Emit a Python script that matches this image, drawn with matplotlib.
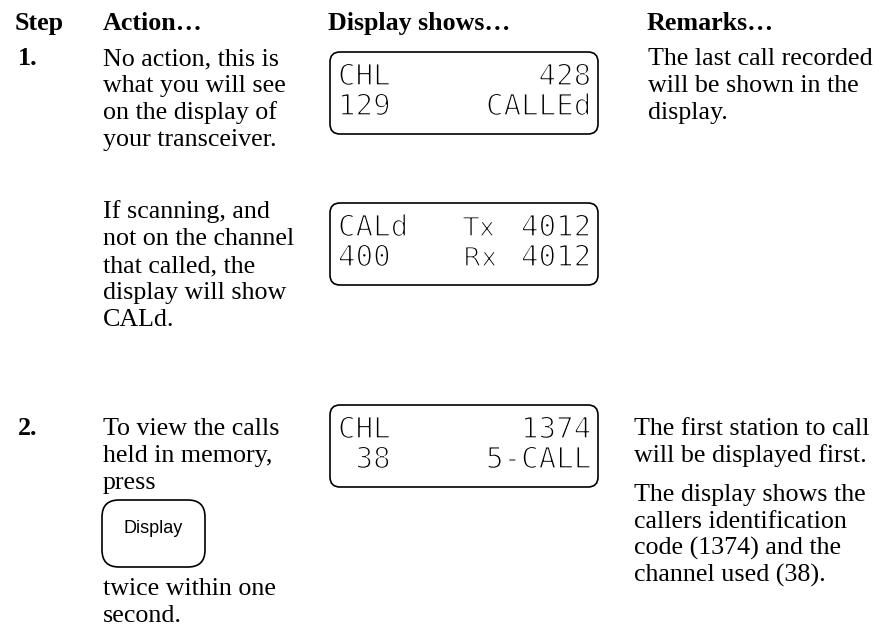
import matplotlib
matplotlib.use("Agg")
import matplotlib.pyplot as plt
from matplotlib.patches import FancyBboxPatch
import matplotlib.patheffects as pe

# ---------------- content ----------------
headers = ["Step", "Action…", "Display shows…", "Remarks…"]
step_labels = ["1.", "2."]

action_1a = ["No action, this is", "what you will see", "on the display of", "your transceiver."]
action_1b = ["If scanning, and", "not on the channel", "that called, the", "display will show", "CALd."]
action_2a = ["To view the calls", "held in memory,", "press"]
button_label = "Display"
action_2b = ["twice within one", "second."]

remarks_1 = ["The last call recorded", "will be shown in the", "display."]
remarks_2a = ["The first station to call", "will be displayed first."]
remarks_2b = ["The display shows the", "callers identification", "code (1374) and the", "channel used (38)."]

# LCD screens: left field, middle field, right field (two rows each)
lcd1_left = ["CHL", "129"]
lcd1_mid = ["", ""]
lcd1_right = ["428", "CALLEd"]
lcd2_left = ["CALd", "400"]
lcd2_mid = ["Tx", "Rx"]
lcd2_right = ["4012", "4012"]
lcd3_left = ["CHL", " 38"]
lcd3_mid = ["", ""]
lcd3_right = ["1374", "5-CALL"]

# ---------------- layout ----------------
W, H = 875, 629
fig = plt.figure(figsize=(W / 100, H / 100), dpi=100)
ax = fig.add_axes([0, 0, 1, 1])
ax.set_xlim(0, W)
ax.set_ylim(H, 0)
ax.axis("off")

SERIF = "Liberation Serif"
SANS = "Liberation Sans"
FS = 18.7
LINE = 27

col_x = [15, 103, 328, 647]
for x, h in zip(col_x, headers):
    ax.text(x, 30, h, fontsize=FS, fontweight="bold", family=SERIF, va="baseline", ha="left")


def para(x, y0, lines, **kw):
    for i, s in enumerate(lines):
        ax.text(x, y0 + i * LINE, s, fontsize=FS, family=SERIF, va="baseline", ha="left", **kw)


# step numbers
ax.text(18, 65, step_labels[0], fontsize=FS, fontweight="bold", family=SERIF, va="baseline")
ax.text(18, 435, step_labels[1], fontsize=FS, fontweight="bold", family=SERIF, va="baseline")

para(col_x[1], 65, action_1a)
para(col_x[1], 218, action_1b)
para(col_x[1], 435, action_2a)
para(col_x[1], 595, action_2b)

para(648, 65, remarks_1)
para(634, 435, remarks_2a)
para(634, 501, remarks_2b)

# button
btn = FancyBboxPatch((102, 500), 103, 67, boxstyle="round,pad=0,rounding_size=17",
                     fc="white", ec="black", lw=1.2)
ax.add_patch(btn)
ax.text(153.5, 533, button_label, fontsize=13, family=SANS, ha="center", va="baseline")

# LCD screens
thin = [pe.Stroke(linewidth=1.0, foreground="white")]
LCD_FONT = "DejaVu Sans Mono"


def lcd(top, left, mid, right):
    box = FancyBboxPatch((330, top), 268, 82, boxstyle="round,pad=0,rounding_size=10",
                         fc="white", ec="black", lw=1.2)
    ax.add_patch(box)
    for r in range(2):
        y = top + 33 + r * 30
        ax.text(338, y, left[r], fontsize=21, family=LCD_FONT, va="baseline", ha="left",
                path_effects=thin)
        if mid[r]:
            ax.text(463, y, mid[r], fontsize=19, family="DejaVu Sans", va="baseline", ha="left",
                    path_effects=thin)
        ax.text(591, y, right[r], fontsize=21, family=LCD_FONT, va="baseline", ha="right",
                path_effects=thin)


lcd(52, lcd1_left, lcd1_mid, lcd1_right)
lcd(203, lcd2_left, lcd2_mid, lcd2_right)
lcd(405, lcd3_left, lcd3_mid, lcd3_right)

fig.savefig("out.png", dpi=100, facecolor="white")
